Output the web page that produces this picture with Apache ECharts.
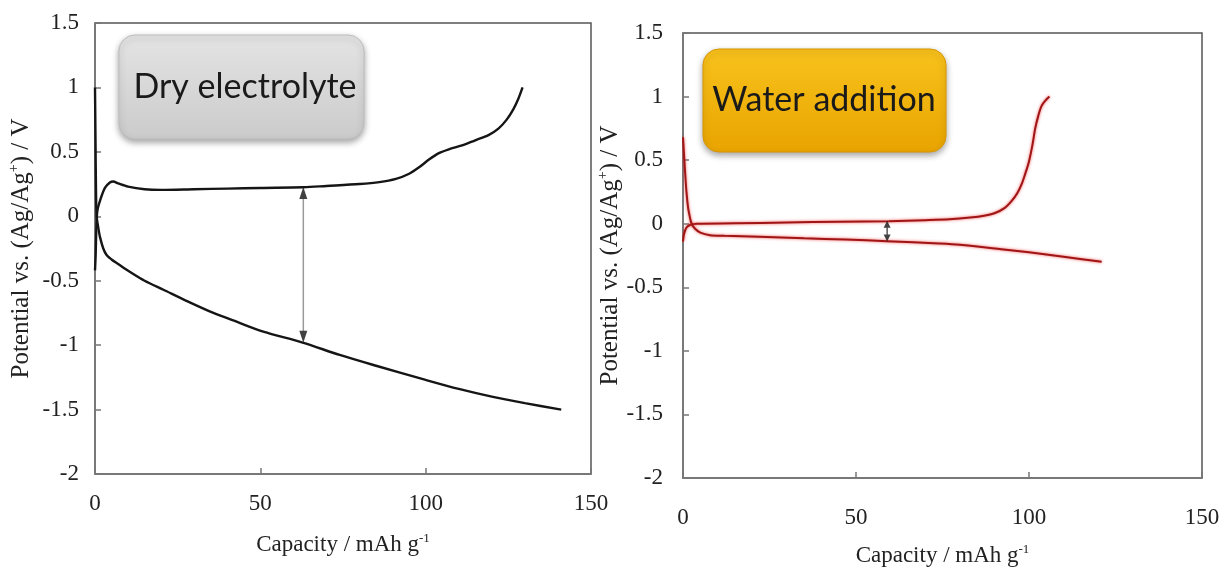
<!DOCTYPE html>
<html>
<head>
<meta charset="utf-8">
<script src="https://cdn.jsdelivr.net/npm/echarts@6/dist/echarts.min.js"></script>
<style>html,body{margin:0;padding:0;background:#fff;}#c{width:1229px;height:573px;}</style>
</head>
<body>
<div id="c"></div>
<script>
// ---- data ----
const xTicks = [0, 50, 100, 150];
const yTicks = [-2, -1.5, -1, -0.5, 0, 0.5, 1, 1.5];

const dryChargeCap = [0,0.2,0.4,0.7,1.5,3,4.5,5.5,7,10,15,20,30,40,50,63,70,80,86,91,95,98,101,104,107,111,115,119,122,124.5,126.5,128,129.3];
const dryChargeV   = [-0.42,-0.3,-0.1,0.04,0.12,0.22,0.262,0.27,0.255,0.23,0.21,0.205,0.21,0.215,0.22,0.225,0.235,0.25,0.265,0.29,0.33,0.38,0.44,0.49,0.52,0.55,0.59,0.63,0.68,0.75,0.83,0.91,1.0];

const dryDisCap = [0,0.15,0.3,0.5,1,1.5,2.5,3.5,5,7,10.5,15,20.7,28,35.8,43,50.9,62.8,74,85,100,110,120,130,141];
const dryDisV   = [1.0,0.6,0.2,0,-0.09,-0.16,-0.25,-0.3,-0.335,-0.37,-0.43,-0.5,-0.57,-0.66,-0.75,-0.82,-0.895,-0.98,-1.076,-1.16,-1.27,-1.34,-1.40,-1.45,-1.50];

const wetChargeCap = [0,0.3,1,2,4,15,30,45,59.5,70,77,83,87,90,93,95,96.6,98,99,100,101,101.8,102.7,103.6,104.8,105.9];
const wetChargeV   = [-0.14,-0.08,-0.03,-0.01,0,0.003,0.01,0.015,0.02,0.028,0.035,0.048,0.062,0.082,0.125,0.18,0.24,0.32,0.4,0.49,0.62,0.75,0.85,0.925,0.97,1.0];

const wetDisCap = [0,0.5,1,1.5,2,2.5,3.5,5,7.8,12,22,35,47,59,74,80,92,100,110,121];
const wetDisV   = [0.68,0.45,0.25,0.12,0.05,0,-0.04,-0.07,-0.09,-0.095,-0.103,-0.115,-0.125,-0.137,-0.155,-0.165,-0.2,-0.225,-0.26,-0.30];

// double-arrow annotations: [capacity, top potential, bottom potential]
const dryArrow = [63, 0.225, -0.98];
const wetArrow = [59, 0.02, -0.137];

const panelTitles = ['Dry electrolyte', 'Water addition'];

// ---- build ----
const zip = (a, b) => a.map((x, i) => [x, b[i]]);
const chart = echarts.init(document.getElementById('c'));

const serif = 'Liberation Serif';
function xAxis(gi, gap, margin) {
  return {
    type: 'value', gridIndex: gi, min: xTicks[0], max: xTicks[xTicks.length-1], interval: 50,
    name: '{n|Capacity / mAh g}{s|-1}', nameLocation: 'middle', nameGap: gap,
    nameTextStyle: { rich: { n: { fontFamily: serif, fontSize: 23, color: '#222', lineHeight: 26 },
                              s: { fontFamily: serif, fontSize: 13, color: '#222', verticalAlign: 'top', lineHeight: 26 } } },
    axisLine: { show: true, onZero: false, lineStyle: { color: '#777', width: 1.5 } },
    axisTick: { show: true, inside: true, length: 6, lineStyle: { color: '#777', width: 1.5 } },
    axisLabel: { formatter: '{t|{value}}', margin: margin,
                 rich: { t: { fontFamily: serif, fontSize: 23, color: '#222' } } },
    splitLine: { show: false }
  };
}
function yAxis(gi, gap, margin) {
  return {
    type: 'value', gridIndex: gi, min: yTicks[0], max: yTicks[yTicks.length-1], interval: 0.5,
    name: '{n|Potential vs. (Ag/Ag}{s|+}{n|) / V}', nameLocation: 'middle', nameGap: gap, nameRotate: 90,
    nameTextStyle: { rich: { n: { fontFamily: serif, fontSize: 25, color: '#222', lineHeight: 28 },
                              s: { fontFamily: serif, fontSize: 14, color: '#222', verticalAlign: 'top', lineHeight: 28 } } },
    axisLine: { show: true, onZero: false, lineStyle: { color: '#777', width: 1.5 } },
    axisTick: { show: true, inside: true, length: 6, lineStyle: { color: '#777', width: 1.5 } },
    axisLabel: { formatter: '{t|{value}}', margin: margin,
                 rich: { t: { fontFamily: serif, fontSize: 23, color: '#222' } } },
    splitLine: { show: false }
  };
}

const blackLine = { color: '#151515', width: 2.4 };
const redLine = { color: '#a01515', width: 2, shadowColor: 'rgba(235,40,40,0.8)', shadowBlur: 3 };

function curve(gi, data, ls) {
  return { type: 'line', xAxisIndex: gi, yAxisIndex: gi, data: data, showSymbol: false, symbol: 'none',
           smooth: 0.3, lineStyle: ls, z: 3 };
}
function arrow(gi, a, headSize, lineColor) {
  const hv = headSize[2];
  return [
    { type: 'line', xAxisIndex: gi, yAxisIndex: gi, data: [[a[0], a[1] - hv], [a[0], a[2] + hv]],
      symbol: 'none', lineStyle: { color: lineColor, width: 1.5 }, z: 2 },
    { type: 'scatter', xAxisIndex: gi, yAxisIndex: gi, symbol: 'triangle', symbolSize: [headSize[0], headSize[1]],
      data: [{ value: [a[0], a[1] - hv / 2], symbolRotate: 0 }, { value: [a[0], a[2] + hv / 2], symbolRotate: 180 }],
      itemStyle: { color: '#111' }, z: 4 }
  ];
}

function box(x, y, w, h, fillTop, fillBot, stroke, text, tx) {
  return [
    { type: 'rect', shape: { x: x, y: y, width: w, height: h, r: 16 },
      style: { fill: new echarts.graphic.LinearGradient(0, 0, 0, 1, [{ offset: 0, color: fillTop }, { offset: 1, color: fillBot }]),
               stroke: stroke, lineWidth: 1, shadowBlur: 6, shadowOffsetY: 3, shadowColor: 'rgba(0,0,0,0.35)' }, z: 10 },
    { type: 'text', x: tx, y: y + h / 2, style: { text: text, fontFamily: 'Lato', fontSize: 34, fill: '#1a1a1a',
      textAlign: 'center', textVerticalAlign: 'middle' }, z: 11 }
  ];
}

const option = {
  animation: false,
  backgroundColor: '#fff',
  textStyle: { fontFamily: serif },
  grid: [
    { left: 95, top: 23, width: 496, height: 451, show: true, borderColor: '#555', borderWidth: 1.5, backgroundColor: 'transparent' },
    { left: 683, top: 33, width: 519, height: 445, show: true, borderColor: '#555', borderWidth: 1.5, backgroundColor: 'transparent' }
  ],
  xAxis: [xAxis(0, 58, 18), xAxis(1, 65, 28)],
  yAxis: [yAxis(0, 60, 16), yAxis(1, 50, 20)],
  series: [
    curve(0, zip(dryChargeCap, dryChargeV), blackLine),
    curve(0, zip(dryDisCap, dryDisV), blackLine),
    curve(1, zip(wetChargeCap, wetChargeV), redLine),
    curve(1, zip(wetDisCap, wetDisV), redLine),
    ...arrow(0, dryArrow, [8, 12, 0.09], '#9a9a9a'),
    ...arrow(1, wetArrow, [7, 7, 0.05], '#555')
  ],
  graphic: [
    ...box(119, 35, 245, 104, '#e4e4e4', '#cbcbcb', '#bdbdbd', panelTitles[0], 245),
    ...box(703, 49, 243, 103, '#f8c21c', '#e9a400', '#d79600', panelTitles[1], 824)
  ]
};
chart.setOption(option);
</script>
</body>
</html>
